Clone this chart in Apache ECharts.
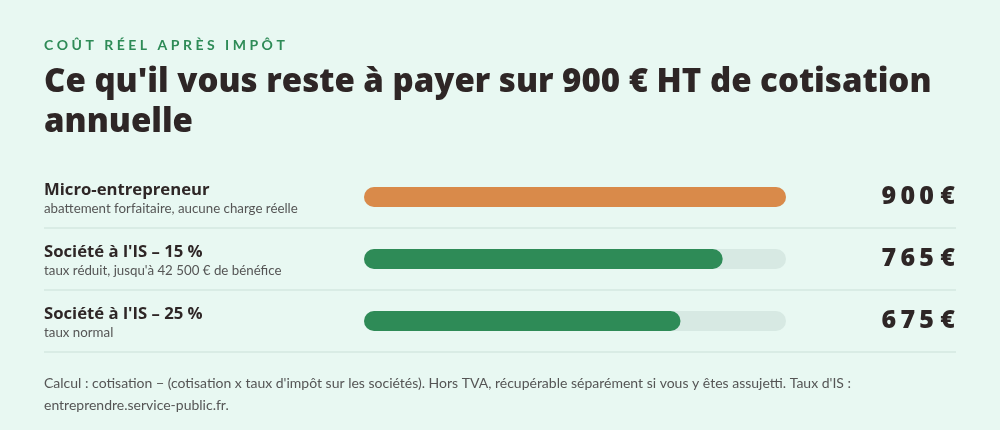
<!DOCTYPE html>
<html>
<head>
<meta charset="utf-8">
<script src="https://cdn.jsdelivr.net/npm/echarts@6/dist/echarts.min.js"></script>
<style>
  html, body { margin: 0; padding: 0; background: #e8f8f2; }
  #main { width: 1000px; height: 430px; }
</style>
</head>
<body>
<div id="main"></div>
<script>
// données
var categories = ['Micro-entrepreneur', "Société à l'IS – 15 %", "Société à l'IS – 25 %"];
var subtitles = ['abattement forfaitaire, aucune charge réelle', "taux réduit, jusqu'à 42 500 € de bénéfice", 'taux normal'];
var values = [900, 765, 675];
var cotisation = 900;

var ink = '#2e2626';
var rowTop = 166, rowH = 62;

var chart = echarts.init(document.getElementById('main'));

var spaced = function (s, sep) {
    return s.split('').join(sep || '\u2009');
};
var fmtEur = function (v) {
    return spaced(String(v)) + ' €';
};

var option = {
    backgroundColor: '#e8f8f2',
    animation: false,
    title: [
        {
            text: spaced('COÛT RÉEL APRÈS IMPÔT', '\u2005'),
            left: 44, top: 38, padding: 0,
            textStyle: { color: '#2e8b57', fontFamily: 'Lato', fontWeight: 700, fontSize: 14 }
        },
        {
            text: "Ce qu'il vous reste à payer sur 900 € HT de cotisation\nannuelle",
            left: 44, top: 63, padding: 0,
            textStyle: { color: ink, fontFamily: 'Open Sans', fontWeight: 800, fontSize: 33, lineHeight: 40 }
        },
        {
            text: "Calcul : cotisation − (cotisation x taux d'impôt sur les sociétés). Hors TVA, récupérable séparément si vous y êtes assujetti. Taux d'IS :\nentreprendre.service-public.fr.",
            left: 44, top: 372, padding: 0,
            textStyle: { color: '#555555', fontFamily: 'Lato', fontWeight: 400, fontSize: 14, lineHeight: 22 }
        }
    ],
    grid: { left: 364, right: 214, top: rowTop, height: rowH * categories.length },
    xAxis: {
        type: 'value', min: 0, max: cotisation, show: false
    },
    yAxis: [
        {
            type: 'category', data: categories, inverse: true,
            axisLine: { show: false }, axisTick: { show: false }, splitLine: { show: false },
            axisLabel: {
                align: 'left', margin: 320,
                formatter: function (v, i) { return '{n|' + v + '}\n{s|' + subtitles[i] + '}'; },
                rich: {
                    n: { fontFamily: 'Open Sans', fontWeight: 700, fontSize: 16.7, color: ink, lineHeight: 24 },
                    s: { fontFamily: 'Lato', fontSize: 13.3, color: '#555555', lineHeight: 14 }
                }
            }
        },
        {
            type: 'category', data: categories, inverse: true, position: 'right',
            axisLine: { show: false }, axisTick: { show: false }, splitLine: { show: false },
            axisLabel: {
                align: 'right', margin: 169,
                formatter: function (v, i) { return fmtEur(values[i]); },
                fontFamily: 'Open Sans', fontWeight: 800, fontSize: 25, color: ink
            }
        }
    ],
    series: [
        {
            type: 'bar', barWidth: 20, silent: true, z: 1,
            data: categories.map(function () { return cotisation; }),
            itemStyle: { color: '#d7e9e3', borderRadius: 10 }
        },
        {
            type: 'bar', barWidth: 20, barGap: '-100%', z: 2,
            data: values.map(function (v, i) {
                return { value: v, itemStyle: { color: i === 0 ? '#d98a4a' : '#2e8b57' } };
            }),
            itemStyle: { borderRadius: 10 }
        }
    ],
    graphic: categories.map(function (c, i) {
        var y = rowTop + rowH * (i + 1);
        return {
            type: 'line', silent: true,
            shape: { x1: 44, y1: y, x2: 956, y2: y },
            style: { stroke: '#d4e8e0', lineWidth: 1.5 }
        };
    })
};

chart.setOption(option);
</script>
</body>
</html>
